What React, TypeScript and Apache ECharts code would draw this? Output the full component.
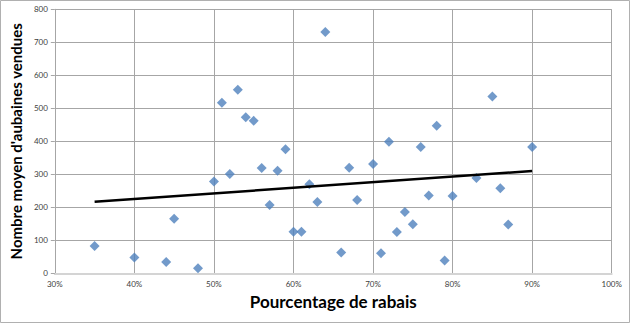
import React, { useEffect, useRef } from "react";
import * as echarts from "echarts";

const discountPct = [35, 40, 44, 45, 48, 50, 51, 52, 53, 54, 55, 56, 57, 58, 59, 60, 61, 62, 63, 64, 66, 67, 68, 70, 71, 72, 73, 74, 75, 76, 77, 78, 79, 80, 83, 85, 86, 87, 90];
const dealsSold = [83, 48, 34, 165, 15, 278, 517, 301, 556, 473, 462, 319, 207, 311, 376, 126, 126, 270, 216, 731, 63, 320, 222, 331, 61, 399, 125, 186, 149, 383, 236, 447, 39, 234, 289, 536, 258, 148, 383];

const xTitle = "Pourcentage de rabais";
const yTitle = "Nombre moyen d'aubaines vendues";

function regression(xs: number[], ys: number[]) {
  const n = xs.length;
  const mx = xs.reduce((a, b) => a + b, 0) / n;
  const my = ys.reduce((a, b) => a + b, 0) / n;
  let sxy = 0, sxx = 0;
  for (let i = 0; i < n; i++) {
    sxy += (xs[i] - mx) * (ys[i] - my);
    sxx += (xs[i] - mx) * (xs[i] - mx);
  }
  const b = sxy / sxx;
  return { a: my - b * mx, b };
}

export default function App() {
  const ref = useRef<HTMLDivElement>(null);
  useEffect(() => {
    document.body.style.margin = "0";
    const chart = echarts.init(ref.current!, null, { renderer: "svg" });
    const { a, b } = regression(discountPct, dealsSold);
    const xMin = Math.min(...discountPct);
    const xMax = Math.max(...discountPct);
    const font = "Lato";
    chart.setOption({
      animation: false,
      backgroundColor: "#ffffff",
      grid: { left: 51.5, right: 18.3, top: 9.3, bottom: 50.7 },
      xAxis: {
        type: "value",
        min: 30,
        max: 100,
        interval: 10,
        name: xTitle,
        nameLocation: "middle",
        nameGap: 19,
        nameTextStyle: { fontFamily: font, fontWeight: "bold", fontSize: 17, color: "#000" },
        axisLine: { show: true, onZero: false, lineStyle: { color: "#d4d4d4", width: 2 } },
        axisTick: { show: false },
        axisLabel: { formatter: "{value}%", fontFamily: font, fontSize: 8, color: "#404040", margin: 7 },
        splitLine: { show: true, lineStyle: { color: "#a6a6a6", width: 1 } },
      },
      yAxis: {
        type: "value",
        min: 0,
        max: 800,
        interval: 100,
        name: yTitle,
        nameLocation: "middle",
        nameGap: 24,
        nameTextStyle: { fontFamily: font, fontWeight: "bold", fontSize: 15, color: "#000" },
        axisLine: { show: true, lineStyle: { color: "#a6a6a6", width: 1 } },
        axisTick: { show: true, length: 4, lineStyle: { color: "#a6a6a6" } },
        axisLabel: { fontFamily: font, fontSize: 8, color: "#404040", margin: 7 },
        splitLine: { show: true, lineStyle: { color: "#a6a6a6", width: 1 } },
      },
      graphic: [
        {
          type: "rect",
          shape: { x: 0.5, y: 0.5, width: 629, height: 322 },
          style: { fill: "none", stroke: "#b0b0b0", lineWidth: 1 },
          silent: true,
          z: 100,
        },
      ],
      series: [
        {
          type: "scatter",
          symbol: "diamond",
          symbolSize: 10,
          itemStyle: { color: "#4f81bd" },
          data: discountPct.map((x, i) => [x, dealsSold[i]]),
          z: 3,
        },
        {
          type: "line",
          symbol: "none",
          lineStyle: { color: "#000", width: 2.5 },
          data: [
            [xMin, a + b * xMin],
            [xMax, a + b * xMax],
          ],
          z: 4,
        },
      ],
    });
    return () => chart.dispose();
  }, []);
  return <div ref={ref} style={{ width: 630, height: 324 }} />;
}
